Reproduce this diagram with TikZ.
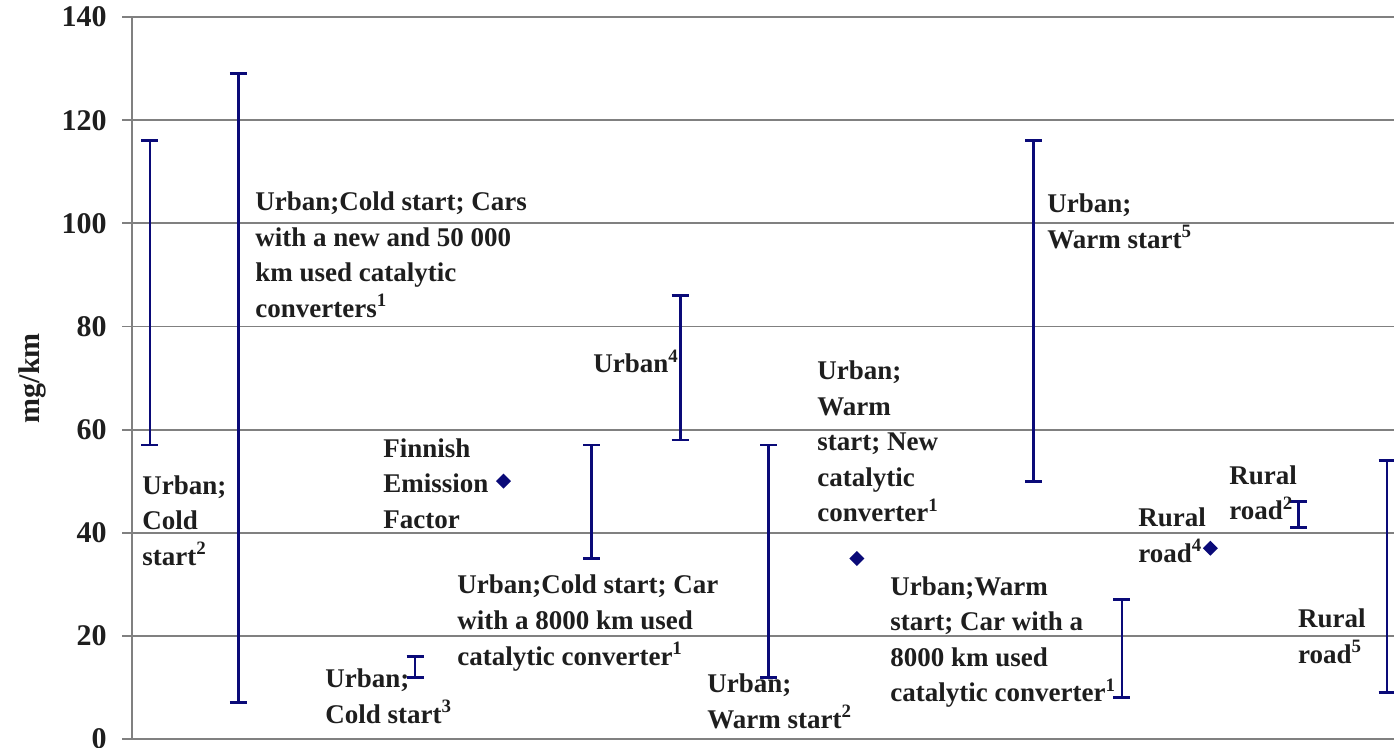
\documentclass[tikz,border=0pt]{standalone}
\usepackage{fontspec}
\setmainfont{Liberation Serif}
\usepackage{xcolor}
\usetikzlibrary{positioning}
\definecolor{chnavy}{RGB}{10,10,120}
\definecolor{chgrid}{RGB}{128,128,128}
\definecolor{chtext}{RGB}{30,30,30}

\begin{document}
\begin{tikzpicture}[x=44.18pt, y=2.578pt,
  gl/.style={chgrid, line width=0.9pt},
  eb/.style={chnavy, line width=1.4pt},
  lb/.style={font=\fontsize{13.5}{17.75}\selectfont\bfseries, text=chtext,
             align=left, anchor=base west, inner sep=0pt},
  yl/.style={font=\fontsize{15}{18}\selectfont\bfseries, text=chtext,
             anchor=east, inner sep=0pt}]
\useasboundingbox (-75pt,-4.5pt) rectangle (622pt,369.5pt);

% grid and axes
\foreach \v in {20,40,...,140}
  \draw[gl] (-0.2037,\v) -- (14.1,\v);
\draw[gl] (-0.2037,0) -- (14.1,0);
\draw[gl] (-0.2037,0) -- (-0.2037,140);
\foreach \v in {0,20,...,140}{
  \draw[gl] (-0.2037,\v) -- ++(-5pt,0);
  \node[yl, xshift=-12.5pt] (y\v) at (-0.2037,\v) {\v};
}
\node[yl, anchor=center, rotate=90] (unit) at (-1.335,70) {mg/km};

% ranges
\foreach \i/\lo/\hi in {0/57/116, 1/7/129, 3/12/16, 5/35/57, 6/58/86,
                        7/12/57, 10/50/116, 11/8/27, 13/41/46, 14/9/54}{
  \draw[eb] (\i,\lo) -- (\i,\hi);
  \draw[eb] (\i,\lo) ++(-4.25pt,0) -- ++(8.5pt,0);
  \draw[eb] (\i,\hi) ++(-4.25pt,0) -- ++(8.5pt,0);
}
% single values
\foreach \i/\v in {4/50, 8/35, 12/37}
  \fill[chnavy] (\i,\v) ++(0,3.75pt) -- ++(3.75pt,-3.75pt) -- ++(-3.75pt,-3.75pt)
    -- ++(-3.75pt,3.75pt) -- cycle;

% labels (placed by the baseline of their last line)
\node[lb] (n1) at (-0.09,33.7) {Urban;\\Cold\\start\textsuperscript{2}};
\node[lb] (n2) at (1.188,81.8) {Urban;Cold start; Cars\\with a new and 50 000\\km used catalytic\\converters\textsuperscript{1}};
\node[lb] (n3) at (1.981,3.1) {Urban;\\Cold start\textsuperscript{3}};
\node[lb] (n4) at (2.637,40.9) {Finnish\\Emission\\Factor};
\node[lb] (n5) at (3.474,14.35) {Urban;Cold start; Car\\with a 8000 km used\\catalytic converter\textsuperscript{1}};
\node[lb] (n6) at (5.014,71) {Urban\textsuperscript{4}};
\node[lb] (n7) at (6.304,2.1) {Urban;\\Warm start\textsuperscript{2}};
\node[lb] (n8) at (7.549,42.1) {Urban;\\Warm\\start; New\\catalytic\\converter\textsuperscript{1}};
\node[lb] (n9) at (8.375,7.2) {Urban;Warm\\start; Car with a\\8000 km used\\catalytic converter\textsuperscript{1}};
\node[lb] (n10) at (10.152,95.2) {Urban;\\Warm start\textsuperscript{5}};
\node[lb] (n11) at (11.18,34.3) {Rural\\road\textsuperscript{4}};
\node[lb] (n12) at (12.21,42.5) {Rural\\road\textsuperscript{2}};
\node[lb] (n13) at (12.99,14.7) {Rural\\road\textsuperscript{5}};
\end{tikzpicture}
\end{document}
